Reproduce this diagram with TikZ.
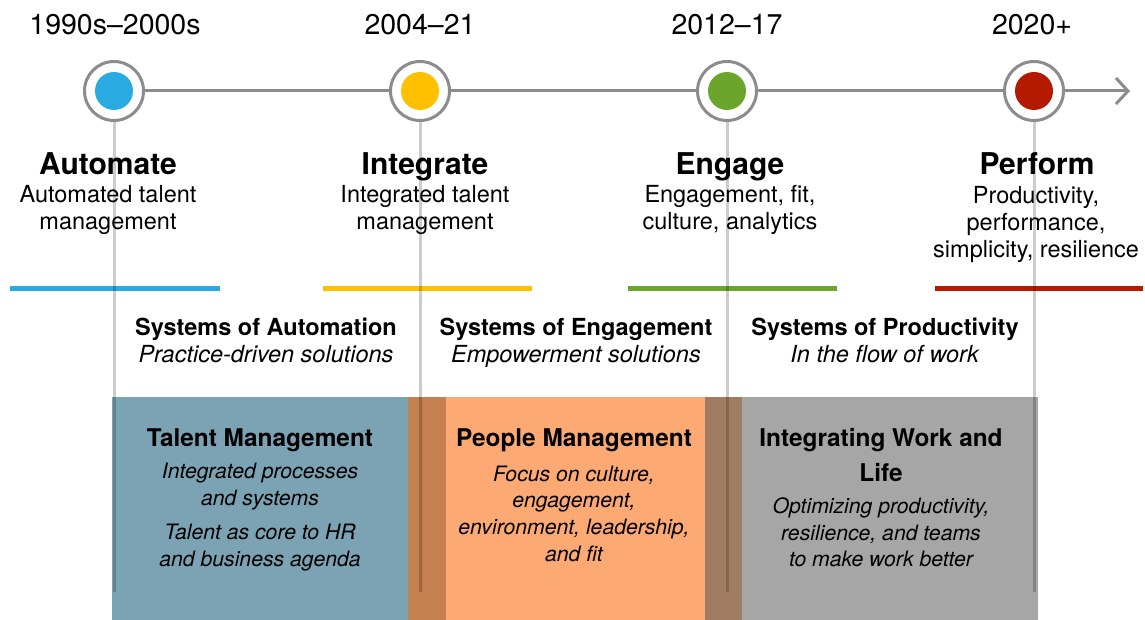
\documentclass[tikz,border=0pt]{standalone}
\usepackage{fontspec}
\setmainfont{TeX Gyre Heros}
\usetikzlibrary{arrows.meta}
\definecolor{ringgray}{HTML}{8C8C8C}
\definecolor{autoblue}{HTML}{29ABE2}
\definecolor{integyellow}{HTML}{FFC000}
\definecolor{engreen}{HTML}{6BA52B}
\definecolor{perfred}{HTML}{B41A00}
\definecolor{talentbox}{HTML}{7BA3B4}
\definecolor{peoplebox}{HTML}{FDA974}
\definecolor{workbox}{HTML}{A6A6A6}
\definecolor{overlapa}{HTML}{C4804F}
\definecolor{overlapb}{HTML}{A07D62}
\tikzset{
	,year/.style    = {anchor=base, font=\fontsize{28.5}{32}\selectfont}
	,phase/.style   = {anchor=base, font=\fontsize{30}{33}\selectfont\bfseries}
	,phasesub/.style= {anchor=base, align=center, font=\fontsize{23.5}{27.3}\selectfont}
	,system/.style  = {anchor=base, align=center, font=\fontsize{23.5}{27.7}\selectfont}
	,boxhead/.style = {anchor=base, align=center, font=\fontsize{24.4}{35}\selectfont\bfseries}
	,boxbody/.style = {anchor=base, align=center, font=\fontsize{21.2}{26.7}\selectfont\itshape}
	,ring/.style    = {circle, draw=ringgray, line width=3pt, fill=white, minimum size=59pt, inner sep=0}
	,dot/.style     = {circle, minimum size=38pt, inner sep=0}
	,axis/.style    = {line width=3pt, ringgray}
	,stem/.style    = {line width=3pt, black, draw opacity=0.2}
	,bar/.style     = {line width=5pt}
}

\begin{document}
\begin{tikzpicture}[x=1pt, y=-1pt]
	\useasboundingbox (0,0) rectangle (1145,620);
	% boxes at the bottom
	\fill[talentbox] (112,397) rectangle (408,620);
	\fill[overlapa]  (408,397) rectangle (446,620);
	\fill[peoplebox] (446,397) rectangle (705,620);
	\fill[overlapb]  (705,397) rectangle (742,620);
	\fill[workbox]   (742,397) rectangle (1038,620);

	\coordinate (s1) at (114,592);
	\coordinate (s2) at (420,592);
	\coordinate (s3) at (727,592);
	\coordinate (s4) at (1034,592);
	\coordinate (tip) at (1130,91);

	\draw[bar, autoblue]    (10,288)  -- (220,288);
	\draw[bar, integyellow] (323,288) -- (532,288);
	\draw[bar, engreen]     (628,288) -- (837,288);
	\draw[bar, perfred]     (935,288) -- (1143,288);

	\draw[stem] (114,91) -- (s1);
	\draw[stem] (420,91) -- (s2);
	\draw[stem] (727,91) -- (s3);
	\draw[stem] (1034,91) -- (s4);

	\node[ring] (r1) at (114,91) {};
	\node[ring] (r2) at (420,91) {};
	\node[ring] (r3) at (727,91) {};
	\node[ring] (r4) at (1034,91) {};
	\node[dot, fill=autoblue]    (d1) at (r1) {};
	\node[dot, fill=integyellow] (d2) at (r2) {};
	\node[dot, fill=engreen]     (d3) at (r3) {};
	\node[dot, fill=perfred]     (d4) at (r4) {};

	\draw[axis] (r1) -- (r2);
	\draw[axis] (r2) -- (r3);
	\draw[axis] (r3) -- (r4);
	\draw[axis, -{Straight Barb[length=12pt, width=26pt, line width=3pt]}] (r4) -- (tip);

	\node[year] (y1) at (115,35)  {1990s–2000s};
	\node[year] (y2) at (420,35)  {2004–21};
	\node[year] (y3) at (727,35)  {2012–17};
	\node[year] (y4) at (1032,35) {2020+};

	\node[phase] (p1) at (108,175)  {Automate};
	\node[phase] (p2) at (425,175)  {Integrate};
	\node[phase] (p3) at (730,175)  {Engage};
	\node[phase] (p4) at (1037,175) {Perform};

	% multi-line nodes sit on the baseline of their last line
	\node[phasesub] (ps1) at (108,230)  {Automated talent\\management};
	\node[phasesub] (ps2) at (425,230)  {Integrated talent\\management};
	\node[phasesub] (ps3) at (730,230)  {Engagement, fit,\\culture, analytics};
	\node[phasesub] (ps4) at (1036,258) {Productivity,\\performance,\\simplicity, resilience};

	\node[system] (sy1) at (266,362.7) {\textbf{Systems of Automation}\\\textit{Practice-driven solutions}};
	\node[system] (sy2) at (576,362.7) {\textbf{Systems of Engagement}\\\textit{Empowerment solutions}};
	\node[system] (sy3) at (885,362.7) {\textbf{Systems of Productivity}\\\textit{In the flow of work}};

	\node[boxhead] (h1) at (260,446.7) {Talent Management};
	\node[boxhead] (h2) at (574,446.7) {People Management};
	\node[boxhead] (h3) at (881,481.7) {Integrating Work and\\Life};

	\node[boxbody] (b1) at (260,566)   {Integrated processes\\and systems\\[7.6pt]Talent as core to HR\\and business agenda};
	\node[boxbody] (b2) at (574,561.3) {Focus on culture,\\engagement,\\environment, leadership,\\and fit};
	\node[boxbody] (b3) at (881,566.7) {Optimizing productivity,\\resilience, and teams\\to make work better};
\end{tikzpicture}
\end{document}
